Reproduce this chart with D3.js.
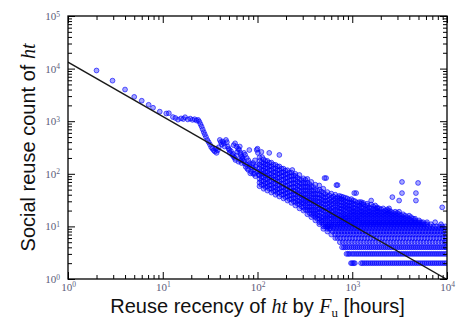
<!DOCTYPE html>
<html>
<head>
<meta charset="utf-8">
<script src="https://cdn.jsdelivr.net/npm/d3@7"></script>
<style>
  body { margin: 0; background: #fff; }
  svg { display: block; }
</style>
</head>
<body>
<figure id="scatter" style="margin:0"></figure>
<script>
// sparse head of the distribution + a few outliers
const sparsePoints = [
  [2.0, 9200], [2.95, 5900], [4.0, 4000], [5.0, 2900], [6.0, 2450], [7.1, 2050], [7.9, 1800], [9.3, 1520],
  [10.9, 1400], [11.6, 1420], [12.8, 1200], [13.6, 1150], [14.5, 1070], [15.6, 1130], [16.5, 1100], [17.2, 1190],
  [18.4, 1080], [19.5, 1120], [20.6, 1060], [21.7, 1090], [22.7, 1030], [23.6, 1060], [24.3, 980], [25.0, 880],
  [25.7, 790], [26.4, 700], [27.1, 620], [27.8, 560], [28.6, 500],
  [29.5, 440], [30.5, 400], [31.5, 360], [32.5, 320], [33.5, 300], [34.5, 280], [35.5, 265], [36.5, 300],
  [37, 250], [38, 280], [39, 320], [40, 440], [41, 400], [42, 360], [43, 410], [44, 380], [45, 330],
  [46.5, 440], [47.5, 400], [48.5, 330], [49.5, 300], [50.5, 285], [51, 250], [52.5, 270], [54, 228],
  [55, 240], [56, 210], [57.5, 200], [58.5, 183], [60, 220], [61, 260], [62.5, 300], [64, 285], [65, 330],
  [66, 250], [67, 228], [68, 210], [69, 190], [70, 200], [71.5, 175], [73, 158], [74, 230], [75, 136],
  [76.5, 150], [78, 125], [80, 118], [82, 140], [84, 102], [86, 110], [88, 130], [90, 160], [92, 120],
  [94, 180], [96, 136], [97, 145], [98, 285], [100, 300], [101, 250], [99, 110], [103, 95], [93, 100],
  [56, 350], [58, 380], [60, 330], [63, 170], [66, 180], [68, 160], [72, 250], [77, 200], [80, 180],
  [83, 160], [87, 150], [90, 100], [95, 90], [82, 283], [112, 208], [133, 250], [170, 228], [233, 118],
  [510, 83], [530, 83], [680, 61], [700, 61], [1050, 43], [1100, 43], [1244, 29], [1585, 31], [1833, 22],
  [2450, 22], [2650, 36], [3124, 31], [3350, 43], [3350, 70], [4950, 67], [4700, 43], [4700, 31], [8900, 23]
];

// dense body: [x, list of counts]
const cloudColumns = [
  [105, [58, 68, 80, 94, 110, 128, 150, 176, 205]],
  [110, [62, 74, 87, 102, 119, 140, 165, 260]],
  [116, [52, 61, 72, 85, 100, 117, 137, 160, 188]],
  [121, [56, 66, 78, 92, 108, 127, 150, 175]],
  [127, [48, 57, 67, 79, 93, 109, 128, 150, 176]],
  [133, [52, 61, 72, 85, 100, 118, 139, 162]],
  [140, [44, 52, 61, 72, 85, 100, 118, 139, 163]],
  [147, [47, 56, 66, 78, 92, 108, 127, 150]],
  [155, [40, 47, 55, 65, 77, 91, 107, 126, 148]],
  [162, [43, 51, 60, 71, 84, 99, 117, 138]],
  [170, [37, 44, 52, 61, 72, 85, 100, 118, 138]],
  [179, [40, 47, 55, 65, 77, 91, 107, 126]],
  [188, [34, 40, 47, 55, 65, 77, 91, 107, 125]],
  [197, [36, 43, 50, 59, 70, 83, 98, 115]],
  [207, [31, 37, 43, 51, 60, 71, 84, 99, 117]],
  [217, [33, 39, 46, 54, 64, 76, 90, 106]],
  [228, [28, 33, 39, 46, 54, 64, 76, 90, 105]],
  [240, [30, 35, 41, 48, 57, 67, 79, 93]],
  [251, [25, 29, 34, 40, 47, 55, 65, 77, 91, 100]],
  [264, [27, 31, 37, 43, 51, 60, 71, 84]],
  [277, [22, 26, 30, 35, 41, 48, 57, 67, 79, 95]],
  [291, [24, 28, 33, 39, 46, 54, 64, 76]],
  [305, [20, 23, 27, 31, 36, 42, 49, 58, 68, 82]],
  [320, [21, 25, 29, 34, 40, 47, 55, 65, 77]],
  [336, [17, 20, 23, 27, 31, 36, 42, 49, 58, 68, 80]],
  [353, [18, 21, 24, 28, 33, 39, 46, 54, 64]],
  [370, [15, 17, 20, 23, 27, 31, 36, 42, 49, 58, 70]],
  [389, [16, 18, 21, 25, 29, 34, 40, 47, 56]],
  [408, [13, 15, 17, 20, 23, 27, 31, 36, 42, 50, 62]],
  [428, [14, 16, 18, 21, 25, 29, 34, 40, 48]],
  [449, [11, 12, 14, 16, 19, 22, 26, 30, 35, 41, 50, 60]],
  [472, [12, 13, 15, 18, 21, 24, 28, 33, 39, 46]],
  [495, [9, 10, 11, 13, 15, 17, 20, 23, 27, 31, 36, 43, 52]],
  [520, [10, 11, 12, 14, 16, 19, 22, 26, 30, 35, 41]],
  [546, [8, 9, 10, 11, 13, 15, 17, 20, 23, 27, 31, 37, 45]],
  [573, [9, 11, 12, 14, 16, 18, 21, 24, 28, 33, 39]],
  [601, [7, 11, 12, 14, 16, 19, 22, 26, 30, 35, 42]],
  [631, [11, 13, 15, 17, 20, 23, 27, 32, 37]],
  [662, [6, 11, 12, 14, 16, 18, 21, 25, 29, 34, 40]],
  [695, [11, 13, 15, 17, 20, 23, 27, 31, 36]],
  [730, [11, 12, 14, 16, 19, 22, 25, 29, 34, 38]],
  [766, [11, 12, 13, 15, 17, 19, 22, 25, 29, 33, 37]],
  [804, [11, 13, 14, 16, 18, 21, 24, 28, 32, 36]],
  [844, [11, 12, 14, 15, 17, 20, 23, 26, 30, 35]],
  [886, [11, 12, 13, 15, 17, 19, 22, 25, 29, 34]],
  [930, [11, 13, 14, 16, 18, 21, 24, 28, 32]],
  [976, [11, 12, 13, 15, 17, 19, 22, 25, 29, 33]],
  [1025, [11, 12, 14, 16, 18, 20, 23, 27, 31]],
  [1075, [11, 12, 13, 15, 17, 19, 22, 26, 30]],
  [1129, [11, 13, 14, 16, 18, 21, 24, 28]],
  [1185, [11, 12, 13, 15, 17, 19, 22, 25, 29]],
  [1244, [11, 12, 14, 16, 18, 20, 23, 27]],
  [1306, [11, 12, 13, 15, 17, 19, 22, 26, 28]],
  [1371, [11, 12, 14, 16, 18, 21, 24]],
  [1438, [11, 12, 13, 15, 17, 19, 22, 25, 27]],
  [1510, [11, 12, 14, 16, 18, 20, 23]],
  [1585, [11, 12, 13, 15, 17, 19, 22, 26]],
  [1664, [11, 12, 14, 16, 18, 21, 24]],
  [1746, [11, 12, 13, 15, 17, 19, 22, 25]],
  [1833, [11, 12, 14, 16, 18, 20, 23]],
  [1923, [11, 12, 13, 15, 17, 19, 22]],
  [2019, [11, 12, 14, 16, 18, 21]],
  [2119, [11, 12, 13, 15, 17, 19, 22]],
  [2225, [11, 12, 14, 16, 18, 20]],
  [2335, [11, 12, 13, 15, 17, 19, 21]],
  [2451, [11, 12, 14, 16, 18, 20]],
  [2572, [11, 12, 13, 15, 17, 19]],
  [2700, [11, 12, 14, 16, 18]],
  [2835, [11, 12, 13, 15, 17, 19]],
  [2976, [11, 12, 14, 16, 18]],
  [3124, [11, 12, 13, 15, 17, 19]],
  [3279, [11, 12, 14, 16]],
  [3441, [11, 12, 13, 15, 17]],
  [3612, [11, 12, 14, 16]],
  [3792, [11, 12, 13, 15]],
  [3980, [11, 12, 14, 16]],
  [4178, [11, 12, 13, 15]],
  [4386, [11, 12, 14]],
  [4603, [11, 12, 13, 14]],
  [4832, [11, 12]],
  [5071, [11, 12, 13]],
  [5323, [11, 12]],
  [5587, [11, 12]],
  [5865, [11]],
  [6155, [11, 12]],
  [6782, [11]],
  [7500, [12]],
  [8641, [11]]
];

// low counts form horizontal bands: x values per count
const row2 = [970, 1000, 1035, 1065, 1240, 1290, 1350, 1415, 1480, 1555, 1630, 1710, 1795, 1885, 1980, 2080,
  2185, 2295, 2410, 2530, 2655, 2785, 2925, 3070, 3220, 3380, 3550, 3725, 3910, 4105, 4310, 4525, 4750, 4985,
  5235, 5495, 5765, 6050, 6350, 6670, 7000, 7345, 7710, 8095, 8500, 8920, 9360, 9800];
const row3 = [870, 905, 940, 995, 1045, 1100, 1155, 1215, 1275, 1340, 1405, 1475, 1550, 1625, 1705, 1790, 1880,
  1975, 2070, 2175, 2280, 2395, 2515, 2640, 2770, 2910, 3055, 3205, 3365, 3530, 3705, 3890, 4085, 4290, 4500,
  4725, 4960, 5210, 5470, 5740, 6025, 6325, 6640, 6970, 7320, 7680, 8060, 8460, 8880, 9320, 9780];
const row4 = [780, 815, 850, 890, 935, 985, 1030, 1080, 1135, 1190, 1250, 1310, 1380, 1445, 1520, 1590, 1670,
  1755, 1840, 1930, 2030, 2130, 2235, 2345, 2460, 2585, 2710, 2845, 2990, 3140, 3290, 3455, 3630, 3810, 4000,
  4200, 4400, 4620, 4850, 5090, 5345, 5610, 5890, 6180, 6490, 6810, 7150, 7500, 7880, 8270, 8680, 9110, 9560, 9800];
const row5 = [740, 795, 855, 920, 990, 1065, 1145, 1230, 1325, 1425, 1530, 1645, 1770, 1905, 2050, 2205, 2370,
  2550, 2740, 2945, 3170, 3410, 3665, 3940, 4240, 4560, 4905, 5275, 5670, 6100, 6560, 7055, 7590, 8160, 8780, 9440, 9800];
const row6 = [700, 752, 810, 870, 935, 1005, 1080, 1165, 1250, 1345, 1450, 1560, 1675, 1800, 1940, 2085, 2245,
  2415, 2595, 2790, 3000, 3230, 3470, 3735, 4015, 4320, 4645, 4995, 5370, 5780, 6215, 6685, 7190, 7730, 8315, 8940, 9620];
const row7 = [660, 710, 765, 822, 885, 950, 1022, 1100, 1182, 1272, 1368, 1470, 1582, 1700, 1830, 1968, 2115,
  2275, 2447, 2632, 2830, 3045, 3275, 3520, 3788, 4073, 4380, 4712, 5068, 5450, 5862, 6305, 6780, 7295, 7845, 8435, 9075, 9760];
const row8 = [620, 668, 718, 772, 830, 893, 960, 1033, 1110, 1195, 1285, 1382, 1486, 1598, 1718, 1848, 1988,
  2138, 2300, 2473, 2660, 2860, 3077, 3309, 3560, 3828, 4117, 4428, 4762, 5122, 5508, 5925, 6372, 6852, 7370, 7925, 8525, 9170];
const row9 = [590, 635, 683, 735, 790, 850, 914, 983, 1057, 1137, 1223, 1315, 1415, 1521, 1636, 1760, 1893,
  2036, 2190, 2355, 2533, 2724, 2930, 3151, 3389, 3645, 3920, 4217, 4535, 4877, 5245, 5642, 6068, 6525, 7018, 7548, 8118, 8732, 9390];
const row10 = [560, 602, 648, 697, 750, 806, 867, 933, 1003, 1079, 1160, 1248, 1342, 1443, 1552, 1670, 1796,
  1931, 2077, 2234, 2403, 2584, 2779, 2989, 3215, 3458, 3719, 4000, 4302, 4627, 4976, 5352, 5756, 6191, 6658, 7161, 7702, 8283, 8909, 9580];
const countRows = [2, 3, 4, 5, 6, 7, 8, 9, 10];
const rowX = [row2, row3, row4, row5, row6, row7, row8, row9, row10];

// fitted power law, end points
const fitX = [1, 10000];
const fitY = [13300, 0.98];

const xMajor = [1, 10, 100, 1000, 10000];
const yMajor = [1, 10, 100, 1000, 10000, 100000];

const width = 457, height = 324;
const margin = { top: 16, right: 10, bottom: 45, left: 68 };
const plotW = width - margin.left - margin.right;
const plotH = height - margin.top - margin.bottom;

const points = sparsePoints.slice();
cloudColumns.forEach(([cx, ys]) => ys.forEach(cy => points.push([cx, cy])));
countRows.forEach((cy, i) => rowX[i].forEach(cx => points.push([cx, cy])));

const svg = d3.select("figure#scatter")
  .append("svg")
  .attr("width", width)
  .attr("height", height)
  .style("background", "#fff");

const g = svg.append("g")
  .attr("transform", "translate(" + margin.left + "," + margin.top + ")");

const x = d3.scaleLog().domain([1, 10000]).range([0, plotW]);
const y = d3.scaleLog().domain([1, 100000]).range([plotH, 0]);

g.append("clipPath").attr("id", "plotclip")
  .append("rect").attr("width", plotW).attr("height", plotH);

// dots
g.append("g")
  .attr("clip-path", "url(#plotclip)")
  .selectAll("circle")
  .data(points)
  .enter()
  .append("circle")
  .attr("cx", d => x(d[0]))
  .attr("cy", d => y(d[1]))
  .attr("r", 2.4)
  .style("fill", "#0000ff")
  .style("fill-opacity", 0.35)
  .style("stroke", "#0000ff")
  .style("stroke-opacity", 0.7)
  .style("stroke-width", 0.9);

// fit line
g.append("path")
  .attr("clip-path", "url(#plotclip)")
  .datum(fitX.map((v, i) => [v, fitY[i]]))
  .attr("d", d3.line().x(d => x(d[0])).y(d => y(d[1])))
  .style("fill", "none")
  .style("stroke", "#1a1a1a")
  .style("stroke-width", 1.4);

const xMinor = x.ticks().filter(v => !xMajor.includes(v));
const yMinor = y.ticks().filter(v => !yMajor.includes(v));

function supLabels(sel) {
  sel.selectAll(".tick text").each(function(d) {
    const t = d3.select(this).text("");
    t.append("tspan").text("10");
    t.append("tspan").attr("dy", "-0.45em").style("font-size", "7.5px").text(Math.round(Math.log10(d)));
  });
}

function styleAxis(sel) {
  sel.select(".domain").remove();
  sel.selectAll(".tick line").attr("stroke", "#000").attr("stroke-width", 1);
  sel.selectAll(".tick text")
    .attr("fill", "#5b5b7a")
    .style("font-family", "'Liberation Serif', 'DejaVu Serif', serif")
    .style("font-size", "11px");
}

// X axis, bottom + top
g.append("g").attr("transform", "translate(0," + plotH + ")")
  .call(d3.axisBottom(x).tickValues(xMajor).tickSizeInner(-7).tickSizeOuter(0).tickPadding(4))
  .call(styleAxis).call(supLabels);
g.append("g").attr("transform", "translate(0," + plotH + ")")
  .call(d3.axisBottom(x).tickValues(xMinor).tickSizeInner(-4).tickSizeOuter(0).tickFormat(""))
  .call(styleAxis);
g.append("g")
  .call(d3.axisTop(x).tickValues(xMajor).tickSizeInner(-7).tickSizeOuter(0).tickFormat(""))
  .call(styleAxis);
g.append("g")
  .call(d3.axisTop(x).tickValues(xMinor).tickSizeInner(-4).tickSizeOuter(0).tickFormat(""))
  .call(styleAxis);

// Y axis, left + right
g.append("g")
  .call(d3.axisLeft(y).tickValues(yMajor).tickSizeInner(-7).tickSizeOuter(0).tickPadding(8))
  .call(styleAxis).call(supLabels);
g.append("g")
  .call(d3.axisLeft(y).tickValues(yMinor).tickSizeInner(-4).tickSizeOuter(0).tickFormat(""))
  .call(styleAxis);
g.append("g").attr("transform", "translate(" + plotW + ",0)")
  .call(d3.axisRight(y).tickValues(yMajor).tickSizeInner(-7).tickSizeOuter(0).tickFormat(""))
  .call(styleAxis);
g.append("g").attr("transform", "translate(" + plotW + ",0)")
  .call(d3.axisRight(y).tickValues(yMinor).tickSizeInner(-4).tickSizeOuter(0).tickFormat(""))
  .call(styleAxis);

// frame
g.append("rect")
  .attr("width", plotW)
  .attr("height", plotH)
  .style("fill", "none")
  .style("stroke", "#000")
  .style("stroke-width", 1.3);

// axis titles
const sans = "'Liberation Sans', Arial, sans-serif";
const serif = "'Liberation Serif', 'DejaVu Serif', serif";

const xt = svg.append("text")
  .attr("x", margin.left + plotW / 2)
  .attr("y", 313)
  .attr("text-anchor", "middle")
  .style("font-family", sans)
  .style("font-size", "20px")
  .attr("fill", "#111");
xt.append("tspan").text("Reuse recency of ");
xt.append("tspan").style("font-family", serif).style("font-style", "italic").text("ht");
xt.append("tspan").text(" by ");
xt.append("tspan").style("font-family", serif).style("font-style", "italic").text("F");
xt.append("tspan").style("font-family", serif).style("font-size", "13px").attr("dy", "4").text("u");
xt.append("tspan").attr("dy", "-4").text(" [hours]");

const yt = svg.append("text")
  .attr("transform", "translate(35," + (margin.top + plotH / 2) + ") rotate(-90)")
  .attr("text-anchor", "middle")
  .style("font-family", sans)
  .style("font-size", "20px")
  .attr("fill", "#111");
yt.append("tspan").text("Social reuse count of ");
yt.append("tspan").style("font-family", serif).style("font-style", "italic").text("ht");
</script>
</body>
</html>
